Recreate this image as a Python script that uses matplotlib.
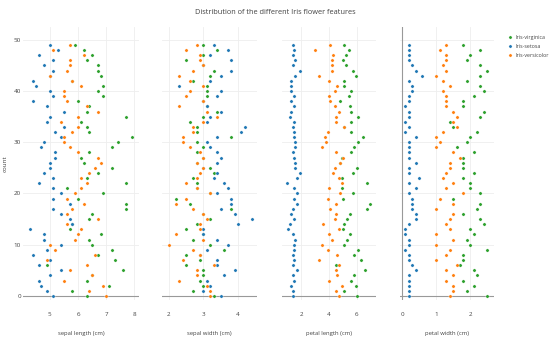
import matplotlib
matplotlib.use("Agg")
import matplotlib.pyplot as plt
from matplotlib.lines import Line2D

plt.rcParams['font.family'] = ['Open Sans', 'DejaVu Sans']

# Iris data, one list per species and feature (row order = count)
setosa_sl = [5.1, 4.9, 4.7, 4.6, 5.0, 5.4, 4.6, 5.0, 4.4, 4.9, 5.4, 4.8, 4.8, 4.3, 5.8, 5.7, 5.4, 5.1, 5.7, 5.1,
             5.4, 5.1, 4.6, 5.1, 4.8, 5.0, 5.0, 5.2, 5.2, 4.7, 4.8, 5.4, 5.2, 5.5, 4.9, 5.0, 5.5, 4.9, 4.4, 5.1,
             5.0, 4.5, 4.4, 5.0, 5.1, 4.8, 5.1, 4.6, 5.3, 5.0]
setosa_sw = [3.5, 3.0, 3.2, 3.1, 3.6, 3.9, 3.4, 3.4, 2.9, 3.1, 3.7, 3.4, 3.0, 3.0, 4.0, 4.4, 3.9, 3.5, 3.8, 3.8,
             3.4, 3.7, 3.6, 3.3, 3.4, 3.0, 3.4, 3.5, 3.4, 3.2, 3.1, 3.4, 4.1, 4.2, 3.1, 3.2, 3.5, 3.1, 3.0, 3.4,
             3.5, 2.3, 3.2, 3.5, 3.8, 3.0, 3.8, 3.2, 3.7, 3.3]
setosa_pl = [1.4, 1.4, 1.3, 1.5, 1.4, 1.7, 1.4, 1.5, 1.4, 1.5, 1.5, 1.6, 1.4, 1.1, 1.2, 1.5, 1.3, 1.4, 1.7, 1.5,
             1.7, 1.5, 1.0, 1.7, 1.9, 1.6, 1.6, 1.5, 1.4, 1.6, 1.6, 1.5, 1.5, 1.4, 1.5, 1.2, 1.3, 1.5, 1.3, 1.5,
             1.3, 1.3, 1.3, 1.6, 1.9, 1.4, 1.6, 1.4, 1.5, 1.4]
setosa_pw = [0.2, 0.2, 0.2, 0.2, 0.2, 0.4, 0.3, 0.2, 0.2, 0.1, 0.2, 0.2, 0.1, 0.1, 0.2, 0.4, 0.4, 0.3, 0.3, 0.3,
             0.2, 0.4, 0.2, 0.5, 0.2, 0.2, 0.4, 0.2, 0.2, 0.2, 0.2, 0.4, 0.1, 0.2, 0.1, 0.2, 0.2, 0.1, 0.2, 0.2,
             0.3, 0.3, 0.2, 0.6, 0.4, 0.3, 0.2, 0.2, 0.2, 0.2]

versicolor_sl = [7.0, 6.4, 6.9, 5.5, 6.5, 5.7, 6.3, 4.9, 6.6, 5.2, 5.0, 5.9, 6.0, 6.1, 5.6, 6.7, 5.6, 5.8, 6.2, 5.6,
                 5.9, 6.1, 6.3, 6.1, 6.4, 6.6, 6.8, 6.7, 6.0, 5.7, 5.5, 5.5, 5.8, 6.0, 5.4, 6.0, 6.7, 6.3, 5.6, 5.5,
                 5.5, 6.1, 5.8, 5.0, 5.6, 5.7, 5.7, 6.2, 5.1, 5.7]
versicolor_sw = [3.2, 3.2, 3.1, 2.3, 2.8, 2.8, 3.3, 2.4, 2.9, 2.7, 2.0, 3.0, 2.2, 2.9, 2.9, 3.1, 3.0, 2.7, 2.2, 2.5,
                 3.2, 2.8, 2.5, 2.8, 2.9, 3.0, 2.8, 3.0, 2.9, 2.6, 2.4, 2.4, 2.7, 2.7, 3.0, 3.4, 3.1, 2.3, 3.0, 2.5,
                 2.6, 3.0, 2.6, 2.3, 2.7, 3.0, 2.9, 2.9, 2.5, 2.8]
versicolor_pl = [4.7, 4.5, 4.9, 4.0, 4.6, 4.5, 4.7, 3.3, 4.6, 3.9, 3.5, 4.2, 4.0, 4.7, 3.6, 4.4, 4.5, 4.1, 4.5, 3.9,
                 4.8, 4.0, 4.9, 4.7, 4.3, 4.4, 4.8, 5.0, 4.5, 3.5, 3.8, 3.7, 3.9, 5.1, 4.5, 4.5, 4.7, 4.4, 4.1, 4.0,
                 4.4, 4.6, 4.0, 3.3, 4.2, 4.2, 4.2, 4.3, 3.0, 4.1]
versicolor_pw = [1.4, 1.5, 1.5, 1.3, 1.5, 1.3, 1.6, 1.0, 1.3, 1.4, 1.0, 1.5, 1.0, 1.4, 1.3, 1.4, 1.5, 1.0, 1.5, 1.1,
                 1.8, 1.3, 1.5, 1.2, 1.3, 1.4, 1.4, 1.7, 1.5, 1.0, 1.1, 1.0, 1.2, 1.6, 1.5, 1.6, 1.5, 1.3, 1.3, 1.3,
                 1.2, 1.4, 1.2, 1.0, 1.3, 1.2, 1.3, 1.3, 1.1, 1.3]

virginica_sl = [6.3, 5.8, 7.1, 6.3, 6.5, 7.6, 4.9, 7.3, 6.7, 7.2, 6.5, 6.4, 6.8, 5.7, 5.8, 6.4, 6.5, 7.7, 7.7, 6.0,
                6.9, 5.6, 7.7, 6.3, 6.7, 7.2, 6.2, 6.1, 6.4, 7.2, 7.4, 7.9, 6.4, 6.3, 6.1, 7.7, 6.3, 6.4, 6.0, 6.9,
                6.7, 6.9, 5.8, 6.8, 6.7, 6.7, 6.3, 6.5, 6.2, 5.9]
virginica_sw = [3.3, 2.7, 3.0, 2.9, 3.0, 3.0, 2.5, 2.9, 2.5, 3.6, 3.2, 2.7, 3.0, 2.5, 2.8, 3.2, 3.0, 3.8, 2.6, 2.2,
                3.2, 2.8, 2.8, 2.7, 3.3, 3.2, 2.8, 3.0, 2.8, 3.0, 2.8, 3.8, 2.8, 2.8, 2.6, 3.0, 3.4, 3.1, 3.0, 3.1,
                3.1, 3.1, 2.7, 3.2, 3.3, 3.0, 2.5, 3.0, 3.4, 3.0]
virginica_pl = [6.0, 5.1, 5.9, 5.6, 5.8, 6.6, 4.5, 6.3, 5.8, 6.1, 5.1, 5.3, 5.5, 5.0, 5.1, 5.3, 5.5, 6.7, 6.9, 5.0,
                5.7, 4.9, 6.7, 4.9, 5.7, 6.0, 4.8, 4.9, 5.6, 5.8, 6.1, 6.4, 5.6, 5.1, 5.6, 6.1, 5.6, 5.5, 4.8, 5.4,
                5.6, 5.1, 5.1, 5.9, 5.7, 5.2, 5.0, 5.2, 5.4, 5.1]
virginica_pw = [2.5, 1.9, 2.1, 1.8, 2.2, 2.1, 1.7, 1.8, 1.8, 2.5, 2.0, 1.9, 2.1, 2.0, 2.4, 2.3, 1.8, 2.2, 2.3, 1.5,
                2.3, 2.0, 2.0, 1.8, 2.1, 1.8, 1.8, 1.8, 2.1, 1.6, 1.9, 2.0, 2.2, 1.5, 1.4, 2.3, 2.4, 1.8, 1.8, 2.1,
                2.4, 2.3, 1.9, 2.3, 2.5, 2.3, 1.9, 2.0, 2.3, 1.8]

species = ['Iris-virginica', 'Iris-setosa', 'Iris-versicolor']
colors = ['#2ca02c', '#1f77b4', '#ff7f0e']
features = ['sepal length (cm)', 'sepal width (cm)', 'petal length (cm)', 'petal width (cm)']
data = {
    'Iris-virginica': [virginica_sl, virginica_sw, virginica_pl, virginica_pw],
    'Iris-setosa': [setosa_sl, setosa_sw, setosa_pl, setosa_pw],
    'Iris-versicolor': [versicolor_sl, versicolor_sw, versicolor_pl, versicolor_pw],
}
xticks = [[5, 6, 7, 8], [2, 3, 4], [2, 4, 6], [0, 1, 2]]
xlims = [(4.05, 8.16), (1.80, 4.55), (0.64, 7.36), (-0.06, 2.70)]
count = list(range(50))

W, H = 550, 338
fig = plt.figure(figsize=(W / 100, H / 100), dpi=100)
panels = [(23, 139), (162, 257), (282, 376), (400, 494)]
top_px, bot_px = 27, 300
text_col = '#444444'

for i, (x0, x1) in enumerate(panels):
    ax = fig.add_axes([x0 / W, 1 - bot_px / H, (x1 - x0) / W, (bot_px - top_px) / H])
    for sp, c in zip(species, colors):
        ax.scatter(data[sp][i], count, s=5.5, color=c, edgecolors='white', linewidths=0.2, zorder=3)
    ax.set_xlim(*xlims[i])
    ax.set_ylim(-0.8, 52.5)
    ax.set_xticks(xticks[i])
    ax.set_yticks([0, 10, 20, 30, 40, 50])
    ax.grid(True, color='#eeeeee', linewidth=0.6)
    ax.set_axisbelow(True)
    ax.axhline(0, color='#999999', linewidth=0.8, zorder=2)
    if xlims[i][0] < 0:
        ax.axvline(0, color='#999999', linewidth=0.8, zorder=2)
    for s in ax.spines.values():
        s.set_visible(False)
    ax.tick_params(axis='x', length=0, labelsize=4.5, colors=text_col, pad=9)
    ax.tick_params(axis='y', length=0, labelsize=4.5, colors=text_col, pad=1.5)
    if i > 0:
        ax.tick_params(labelleft=False)
    else:
        ax.set_ylabel('count', fontsize=4.5, color=text_col)
        ax.yaxis.set_label_coords(-15 / (x1 - x0), 0.5)
    ax.set_xlabel(features[i], fontsize=4.2, color=text_col, labelpad=10)

fig.suptitle('Distribution of the different Iris flower features', x=0.5, y=1 - 12 / H,
             fontsize=5.3, color=text_col, va='center')

handles = [Line2D([], [], marker='o', linestyle='', markersize=2.3, color=c, markeredgecolor='white',
                  markeredgewidth=0.2, label=sp) for sp, c in zip(species, colors)]
leg = fig.legend(handles=handles, loc='upper left', bbox_to_anchor=(505 / W, 1 - 32 / H), frameon=False,
                 fontsize=3.8, handlelength=1, handletextpad=0.4, labelspacing=0.8, borderpad=0)
for t in leg.get_texts():
    t.set_color(text_col)

fig.savefig('out.png', dpi=100)
